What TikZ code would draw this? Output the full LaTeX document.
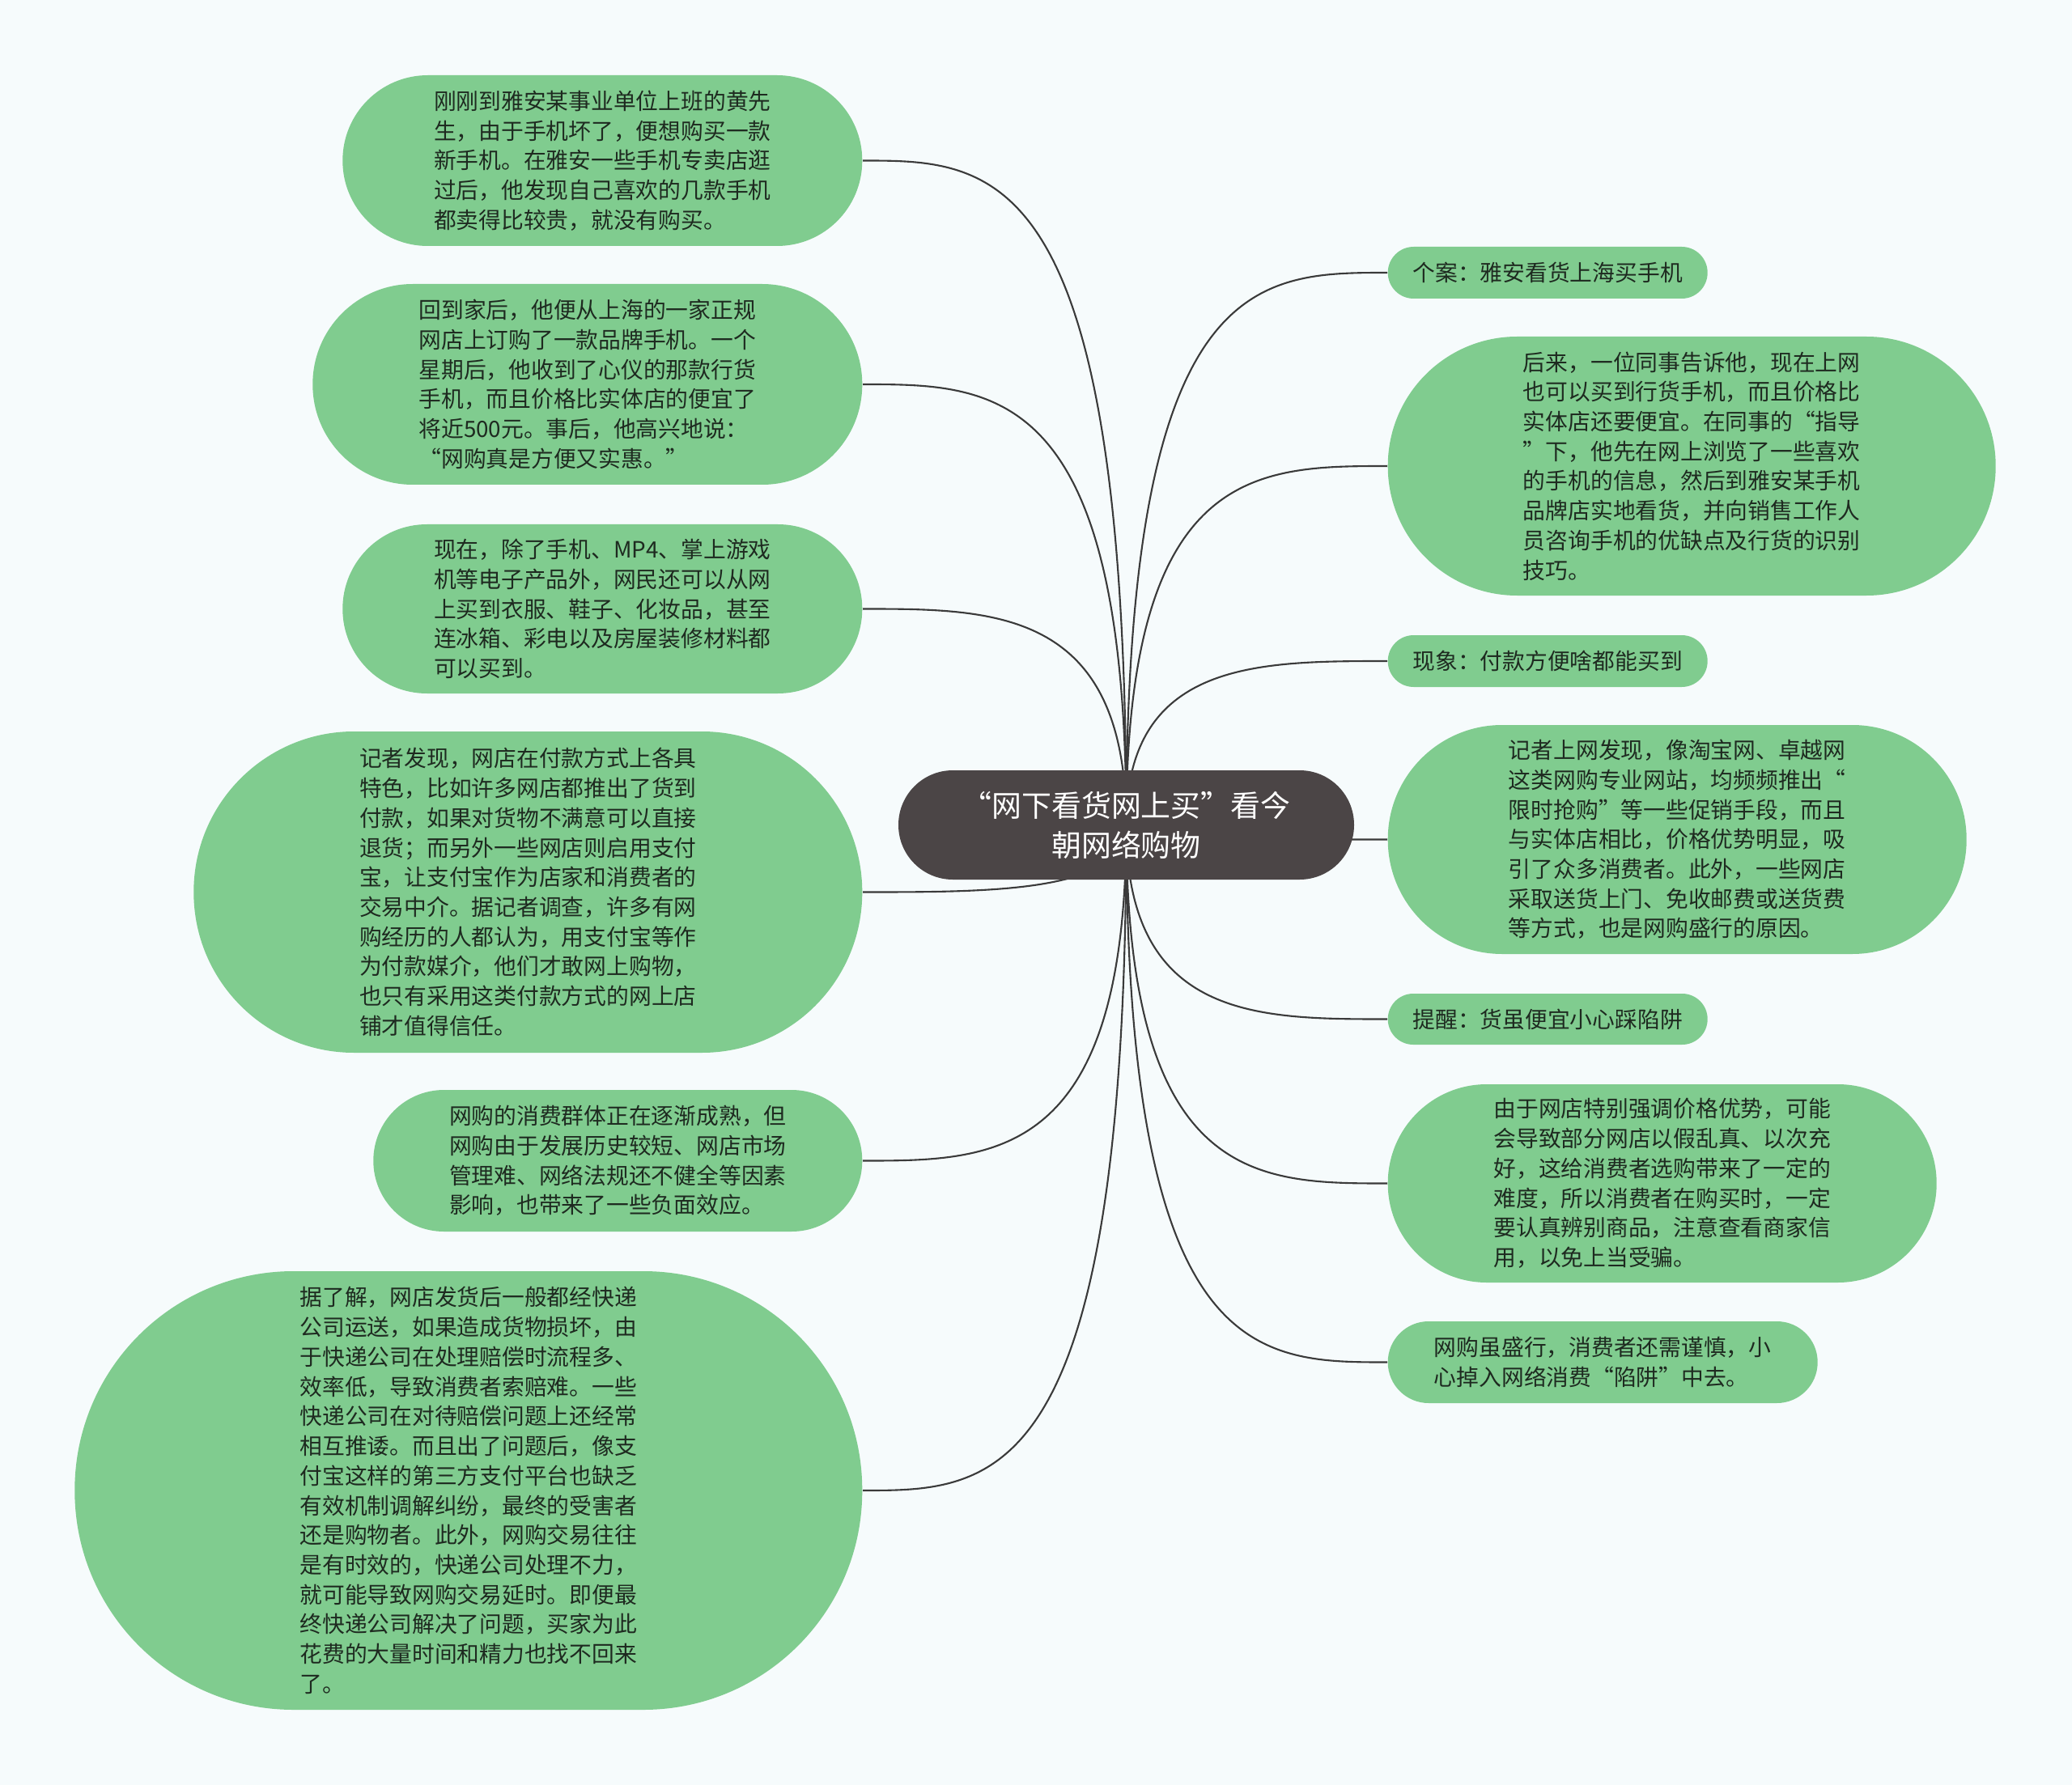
\documentclass[tikz,border=0pt]{standalone}
\usepackage{fontspec}
\setmainfont{Noto Sans CJK SC}
\usepackage{tikz}
\usetikzlibrary{calc,backgrounds}

\definecolor{paper}{HTML}{F6FBFC}
\definecolor{leafgreen}{HTML}{80CC8F}
\definecolor{rootgray}{HTML}{4B4546}
\definecolor{linkgray}{HTML}{3A3A3A}
\definecolor{leaftext}{HTML}{1E2A20}

\begin{document}
\begin{tikzpicture}[
  root/.style={fill=rootgray, text=white, align=center, inner sep=0pt,
               font=\fontsize{10.5}{13.9}\selectfont},
  leaf/.style={fill=leafgreen, text=leaftext, align=left, inner sep=0pt,
               font=\fontsize{7.9}{10.45}\selectfont},
  pill/.style 2 args={minimum width=#1, minimum height=#2,
                      rounded corners=0.499*#2},
  link/.style={draw=linkgray, line width=0.6pt}
]
  \useasboundingbox (0,0) rectangle (25.6,-22.06);

  \node[root, pill={5.63cm}{1.35cm}] (root) at (13.915,-10.195)
    {“网下看货网上买”看今\\朝网络购物};

  % left side
  \node[leaf, pill={6.42cm}{2.11cm}, anchor=east] (l1) at (10.66,-1.985)
    {刚刚到雅安某事业单位上班的黄先\\生，由于手机坏了，便想购买一款\\新手机。在雅安一些手机专卖店逛\\过后，他发现自己喜欢的几款手机\\都卖得比较贵，就没有购买。};
  \node[leaf, pill={6.79cm}{2.48cm}, anchor=east] (l2) at (10.66,-4.75)
    {回到家后，他便从上海的一家正规\\网店上订购了一款品牌手机。一个\\星期后，他收到了心仪的那款行货\\手机，而且价格比实体店的便宜了\\将近500元。事后，他高兴地说：\\“网购真是方便又实惠。”};
  \node[leaf, pill={6.42cm}{2.09cm}, anchor=east] (l3) at (10.66,-7.525)
    {现在，除了手机、MP4、掌上游戏\\机等电子产品外，网民还可以从网\\上买到衣服、鞋子、化妆品，甚至\\连冰箱、彩电以及房屋装修材料都\\可以买到。};
  \node[leaf, pill={8.26cm}{3.97cm}, anchor=east] (l4) at (10.66,-11.025)
    {记者发现，网店在付款方式上各具\\特色，比如许多网店都推出了货到\\付款，如果对货物不满意可以直接\\退货；而另外一些网店则启用支付\\宝，让支付宝作为店家和消费者的\\交易中介。据记者调查，许多有网\\购经历的人都认为，用支付宝等作\\为付款媒介，他们才敢网上购物，\\也只有采用这类付款方式的网上店\\铺才值得信任。};
  \node[leaf, pill={6.04cm}{1.75cm}, anchor=east] (l5) at (10.66,-14.345)
    {网购的消费群体正在逐渐成熟，但\\网购由于发展历史较短、网店市场\\管理难、网络法规还不健全等因素\\影响，也带来了一些负面效应。};
  \node[leaf, pill={9.73cm}{5.42cm}, anchor=east] (l6) at (10.66,-18.42)
    {据了解，网店发货后一般都经快递\\公司运送，如果造成货物损坏，由\\于快递公司在处理赔偿时流程多、\\效率低，导致消费者索赔难。一些\\快递公司在对待赔偿问题上还经常\\相互推诿。而且出了问题后，像支\\付宝这样的第三方支付平台也缺乏\\有效机制调解纠纷，最终的受害者\\还是购物者。此外，网购交易往往\\是有时效的，快递公司处理不力，\\就可能导致网购交易延时。即便最\\终快递公司解决了问题，买家为此\\花费的大量时间和精力也找不回来\\了。};

  % right side
  \node[leaf, pill={3.95cm}{0.64cm}, anchor=west] (r1) at (17.14,-3.37)
    {个案：雅安看货上海买手机};
  \node[leaf, pill={7.51cm}{3.20cm}, anchor=west] (r2) at (17.14,-5.76)
    {后来，一位同事告诉他，现在上网\\也可以买到行货手机，而且价格比\\实体店还要便宜。在同事的“指导\\”下，他先在网上浏览了一些喜欢\\的手机的信息，然后到雅安某手机\\品牌店实地看货，并向销售工作人\\员咨询手机的优缺点及行货的识别\\技巧。};
  \node[leaf, pill={3.95cm}{0.64cm}, anchor=west] (r3) at (17.14,-8.17)
    {现象：付款方便啥都能买到};
  \node[leaf, pill={7.15cm}{2.83cm}, anchor=west] (r4) at (17.14,-10.375)
    {记者上网发现，像淘宝网、卓越网\\这类网购专业网站，均频频推出“\\限时抢购”等一些促销手段，而且\\与实体店相比，价格优势明显，吸\\引了众多消费者。此外，一些网店\\采取送货上门、免收邮费或送货费\\等方式，也是网购盛行的原因。};
  \node[leaf, pill={3.95cm}{0.63cm}, anchor=west] (r5) at (17.14,-12.595)
    {提醒：货虽便宜小心踩陷阱};
  \node[leaf, pill={6.78cm}{2.45cm}, anchor=west] (r6) at (17.14,-14.625)
    {由于网店特别强调价格优势，可能\\会导致部分网店以假乱真、以次充\\好，这给消费者选购带来了一定的\\难度，所以消费者在购买时，一定\\要认真辨别商品，注意查看商家信\\用，以免上当受骗。};
  \node[leaf, pill={5.31cm}{1.01cm}, anchor=west] (r7) at (17.14,-16.835)
    {网购虽盛行，消费者还需谨慎，小\\心掉入网络消费“陷阱”中去。};

  \begin{pgfonlayer}{background}
    \fill[paper] (0,0) rectangle (25.6,-22.06);
    \foreach \n in {l1,l2,l3,l4,l5,l6}
      \draw[link] (root.center) .. controls (root.center |- \n.east)
        and ($(root.center |- \n.east)!0.5!(\n.east)$) .. (\n.east);
    \foreach \n in {r1,r2,r3,r4,r5,r6,r7}
      \draw[link] (root.center) .. controls (root.center |- \n.west)
        and ($(root.center |- \n.west)!0.5!(\n.west)$) .. (\n.west);
  \end{pgfonlayer}
\end{tikzpicture}
\end{document}
